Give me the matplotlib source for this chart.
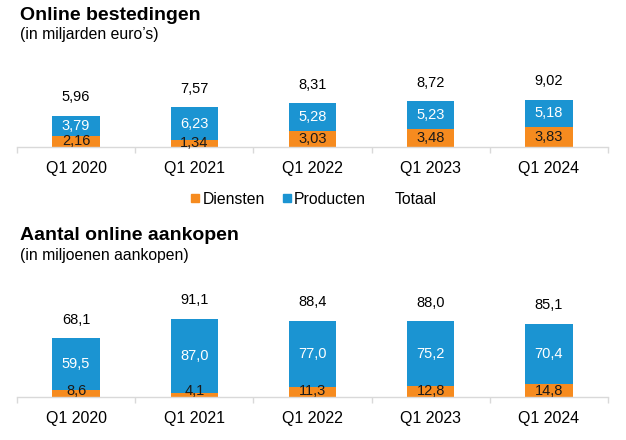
import matplotlib
matplotlib.use("Agg")
import matplotlib.pyplot as plt
from matplotlib.lines import Line2D

plt.rcParams['font.family'] = ['Liberation Sans', 'DejaVu Sans']

categories = ["Q1 2020", "Q1 2021", "Q1 2022", "Q1 2023", "Q1 2024"]

spend_diensten = [2.16, 1.34, 3.03, 3.48, 3.83]
spend_producten = [3.79, 6.23, 5.28, 5.23, 5.18]
spend_totaal = [5.96, 7.57, 8.31, 8.72, 9.02]

count_diensten = [8.6, 4.1, 11.3, 12.8, 14.8]
count_producten = [59.5, 87.0, 77.0, 75.2, 70.4]
count_totaal = [68.1, 91.1, 88.4, 88.0, 85.1]

ORANGE = "#F68B1F"
BLUE = "#1B94D2"
GRID = "#D9D9D9"

W, H = 626, 440
fig = plt.figure(figsize=(W / 100, H / 100), dpi=100)


def px_axes(left, right, top, bottom):
    return fig.add_axes([left / W, 1 - bottom / H, (right - left) / W, (bottom - top) / H])


def fmt(v, dec):
    return f"{v:.{dec}f}".replace(".", ",")


def draw(ax, dien, prod, tot, ymax, min_lab, dec):
    x = list(range(len(categories)))
    ax.bar(x, dien, width=0.4, color=ORANGE)
    ax.bar(x, prod, width=0.4, bottom=dien, color=BLUE)
    for i in x:
        yd = max(dien[i] / 2, min_lab)
        ax.text(i, yd, fmt(dien[i], dec), ha="center", va="center",
                fontsize=10.5, color="#1a1a1a")
        yp = dien[i] + prod[i] / 2
        ax.text(i, yp, fmt(prod[i], dec), ha="center", va="center",
                fontsize=10.5, color="white")
        ax.annotate(fmt(tot[i], dec), (i, dien[i] + prod[i]), xytext=(0, 13.5),
                    textcoords="offset points", ha="center", va="center",
                    fontsize=10.5, color="black")
    ax.set_xlim(-0.5, len(categories) - 0.5)
    ax.set_ylim(0, ymax)
    ax.set_xticks(x)
    ax.set_xticklabels(categories, fontsize=11.5)
    ax.set_xticks([i - 0.5 for i in range(len(categories) + 1)], minor=True)
    ax.tick_params(axis="x", which="major", length=0, pad=10)
    ax.tick_params(axis="x", which="minor", length=4, color=GRID, width=1)
    ax.set_yticks([])
    for s in ["top", "left", "right"]:
        ax.spines[s].set_visible(False)
    ax.spines["bottom"].set_color(GRID)
    ax.spines["bottom"].set_linewidth(1)


ax1 = px_axes(17, 608, 60, 147)
draw(ax1, spend_diensten, spend_producten, spend_totaal, 87 / 5.25, 0, 2)

ax2 = px_axes(17, 608, 290, 397)
draw(ax2, count_diensten, count_producten, count_totaal, 107 / 0.86, 7, 1)

fig.text(20 / W, 1 - 15 / H, "Online bestedingen", fontsize=14, fontweight="bold", va="center", ha="left")
fig.text(20 / W, 1 - 34 / H, "(in miljarden euro’s)", fontsize=11.3, va="center", ha="left")
fig.text(20 / W, 1 - 235 / H, "Aantal online aankopen", fontsize=14, fontweight="bold", va="center", ha="left")
fig.text(20 / W, 1 - 255 / H, "(in miljoenen aankopen)", fontsize=11.3, va="center", ha="left")

handles = [
    Line2D([], [], marker="s", linestyle="none", markersize=6, color=ORANGE),
    Line2D([], [], marker="s", linestyle="none", markersize=6, color=BLUE),
    Line2D([], [], linestyle="none"),
]
fig.legend(handles, ["Diensten", "Producten", "Totaal"], loc="center",
           bbox_to_anchor=(314 / W, 1 - 199 / H), ncol=3, frameon=False,
           fontsize=11.3, handlelength=0.55, handletextpad=0.2, columnspacing=1.1)

fig.savefig("out.png", dpi=100)
